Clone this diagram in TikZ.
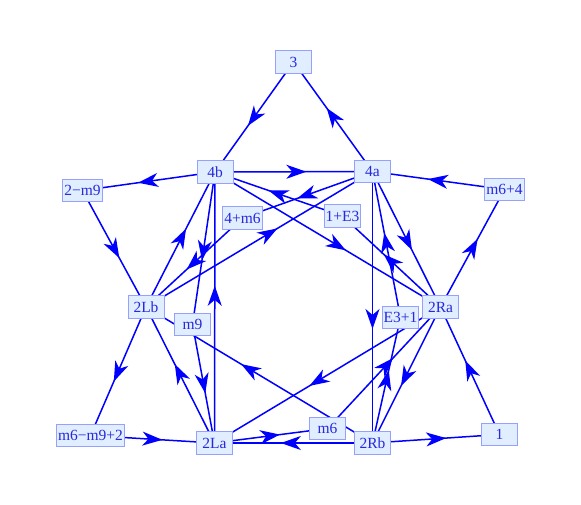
\documentclass[tikz,border=0pt]{standalone}
\usepackage{fontspec}
\setmainfont{Liberation Serif}
\usetikzlibrary{arrows.meta, decorations.markings, backgrounds}

\definecolor{edgeblue}{RGB}{0,0,255}
\definecolor{boxfill}{RGB}{224,238,255}
\definecolor{boxline}{RGB}{150,160,255}
\definecolor{labelblue}{RGB}{40,40,220}

\tikzset{
  vert/.style={draw=boxline, fill=boxfill, text=labelblue, line width=0.8pt,
    minimum width=36pt, minimum height=22.5pt, inner xsep=1.5pt, inner ysep=1pt,
    font=\fontsize{15.5}{17}\selectfont},
  flow/.style={draw, color=edgeblue, line width=1.5pt, postaction={decorate},
    decoration={markings, mark=at position 0.58 with
      {\arrow{Stealth[length=20pt, width=14pt, inset=6pt]}}}}
}

\begin{document}
\begin{tikzpicture}[x=1pt, y=-1pt]
  \useasboundingbox (0,0) rectangle (581,505);

  \node[vert] (n3)     at (293.5,62)   {3};
  \node[vert] (n4b)    at (215,172)    {4b};
  \node[vert] (n4a)    at (372.5,171.5) {4a};
  \node[vert] (n2m9)   at (82.5,190.5) {2−m9};
  \node[vert] (nm64)   at (504.5,189.5) {m6+4};
  \node[vert] (n4m6)   at (242.5,218)  {4+m6};
  \node[vert] (n1E3)   at (342.5,216)  {1+E3};
  \node[vert] (n2Lb)   at (146,307)    {2Lb};
  \node[vert] (n2Ra)   at (440.5,307)  {2Ra};
  \node[vert] (nm9)    at (192.5,324.5) {m9};
  \node[vert] (nE31)   at (400.5,317.5) {E3+1};
  \node[vert] (nm6m92) at (90.5,435.5) {m6−m9+2};
  \node[vert] (n2La)   at (214.5,443)  {2La};
  \node[vert] (nm6)    at (327.5,428.5) {m6};
  \node[vert] (n2Rb)   at (372.5,443)  {2Rb};
  \node[vert] (n1)     at (499.5,434.5) {1};

  \begin{pgfonlayer}{background}
    % Outer ring
    \path
      (n3.center) edge[flow] (n4b.center)
      (n4a.center) edge[flow] (n3.center)
      (n4b.center) edge[flow] (n2m9.center)
      (nm64.center) edge[flow] (n4a.center)
      (n2m9.center) edge[flow] (n2Lb.center)
      (n2Ra.center) edge[flow] (nm64.center)
      (n2Lb.center) edge[flow] (nm6m92.center)
      (n1.center) edge[flow] (n2Ra.center)
      (nm6m92.center) edge[flow] (n2La.center)
      (n2Rb.center) edge[flow] (n1.center);

    % Top and bottom
    \path
      (n4b.center) edge[flow] (n4a.center)
      (n2Rb.center) edge[flow] (n2La.center)
      (n2La.center) edge[flow] (nm6.center)
      (nm6.center) edge[flow] (n2Ra.center);

    % Left side
    \path
      (n2Lb.center) edge[flow] (n4b.center)
      (n4b.center) edge[flow] (nm9.center)
      (nm9.center) edge[flow] (n2La.center)
      (n2La.center) edge[flow] (n4b.center)
      (n2La.center) edge[flow] (n2Lb.center)
      (n4a.center) edge[flow] (n4m6.center)
      (n4m6.center) edge[flow] (n2Lb.center)
      (n2Lb.center) edge[flow] (n4a.center);

    % Right side
    \path
      (n4a.center) edge[flow] (n2Rb.center)
      (n2Rb.center) edge[flow] (nE31.center)
      (nE31.center) edge[flow] (n4a.center)
      (n4a.center) edge[flow] (n2Ra.center)
      (n2Ra.center) edge[flow] (n2Rb.center)
      (n2Ra.center) edge[flow] (n1E3.center)
      (n1E3.center) edge[flow] (n4b.center)
      (n4b.center) edge[flow] (n2Ra.center);

    % Crossing diagonals
    \path
      (n2Rb.center) edge[flow] (n2Lb.center)
      (n2Ra.center) edge[flow] (n2La.center);
  \end{pgfonlayer}
\end{tikzpicture}
\end{document}
